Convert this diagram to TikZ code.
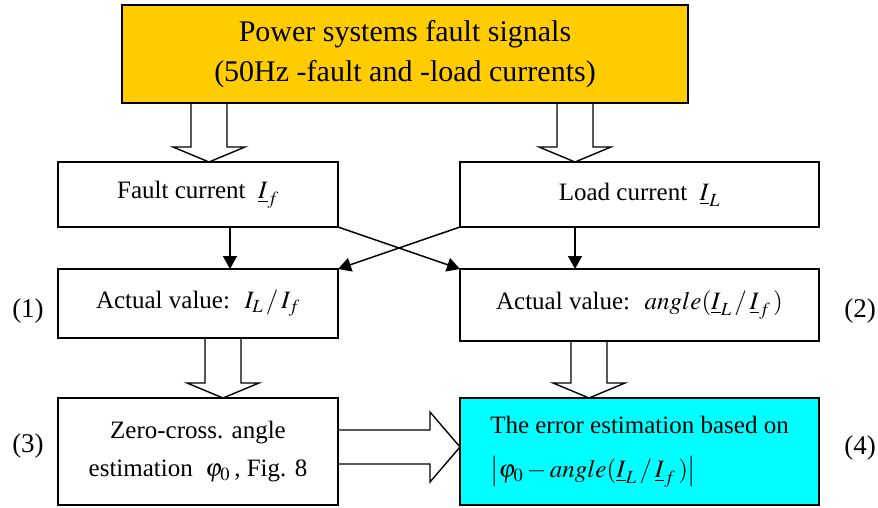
\documentclass[tikz,border=0pt]{standalone}
\usepackage{mathptmx}
\usepackage[no-math]{fontspec}
\setmainfont{Liberation Serif}
\usepackage{tikz}
\usetikzlibrary{positioning,calc,arrows.meta}

\definecolor{sourcegold}{HTML}{FFCC00}
\definecolor{errcyan}{HTML}{00FFFF}

% hollow (block) arrows, start point and tip point
\newcommand{\fatdown}[2]{%
  \draw[fat] ($(#1)+(-18,0)$) -- ($(#2)+(-18,-15)$) -- ($(#2)+(-36,-15)$)
  -- (#2) -- ($(#2)+(36,-15)$) -- ($(#2)+(18,-15)$) -- ($(#1)+(18,0)$);}
\newcommand{\fatright}[2]{%
  \draw[fat] ($(#1)+(0,-17)$) -- ($(#2)+(-30,-17)$) -- ($(#2)+(-30,-35)$)
  -- (#2) -- ($(#2)+(-30,35)$) -- ($(#2)+(-30,17)$) -- ($(#1)+(0,17)$);}

\begin{document}
\begin{tikzpicture}[x=1pt, y=-1pt,
    box/.style={draw, line width=1.5pt, inner sep=0pt, outer sep=0pt,
      font=\fontsize{25}{38}\selectfont, align=center},
    fat/.style={line width=1.4pt, line join=miter},
    thin/.style={line width=1.5pt, -{Triangle[length=13pt, width=14pt]}},
    tag/.style={font=\fontsize{27}{30}\selectfont}]
  \useasboundingbox (0,0) rectangle (878,508);

  \node[box, fill=sourcegold, minimum width=566pt, minimum height=98pt,
    font=\fontsize{30}{40}\selectfont] (top) at (405,54)
    {Power systems fault signals\\(50Hz -fault and -load currents)};

  \node[box, minimum width=280pt, minimum height=65pt] (fault) at (198,194.5)
    {Fault current~ $\underline{I}_{f}$};
  \node[box, minimum width=359pt, minimum height=65pt] (load) at (639.5,194.5)
    {Load current~ $\underline{I}_{L}$};

  \node[box, minimum width=280pt, minimum height=69pt] (act1) at (198,303.5)
    {Actual value:~ $I_{L}\,/\,I_{f}$};
  \node[box, minimum width=359pt, minimum height=72pt] (act2) at (639.5,305)
    {Actual value:~ $angle(\underline{I}_{L}\,/\,\underline{I}_{f}\,)$};

  \node[box, minimum width=280pt, minimum height=107pt] (zero) at (198,451.5)
    {Zero-cross. angle\\estimation~ $\varphi_{0}$\,, Fig. 8};
  \node[box, fill=errcyan, minimum width=359pt, minimum height=107pt, align=left,
    font=\fontsize{25}{44}\selectfont] (err) at (639.5,451.5)
    {The error estimation based on\\
     $\left|\varphi_{0}-angle(\underline{I}_{L}\,/\,\underline{I}_{f}\,)\right|$};

  \node[tag] (n1) at (28,311) {(1)};
  \node[tag] (n2) at (860,311) {(2)};
  \node[tag] (n3) at (28,446) {(3)};
  \node[tag] (n4) at (860,448) {(4)};

  % block arrows
  \coordinate (t1) at ($(fault.north)+(11,0)$);
  \coordinate (s1) at (top.south -| t1);
  \coordinate (t2) at ($(load.north)+(-64.5,0)$);
  \coordinate (s2) at (top.south -| t2);
  \coordinate (t3) at ($(zero.north)+(25,0)$);
  \coordinate (s3) at (act1.south -| t3);
  \coordinate (t4) at ($(err.north)+(-50.5,0)$);
  \coordinate (s4) at (act2.south -| t4);
  \coordinate (t5) at ($(err.west)+(0,-4.5)$);
  \coordinate (s5) at ($(zero.east)+(0,-4.5)$);
  \fatdown{s1}{t1}
  \fatdown{s2}{t2}
  \fatdown{s3}{t3}
  \fatdown{s4}{t4}
  \fatright{s5}{t5}

  % thin arrows
  \draw[thin] ($(fault.south)+(32,0)$) -- ($(act1.north)+(32,0)$);
  \draw[thin] ($(load.south)+(-64.5,0)$) -- ($(act2.north)+(-64.5,0)$);
  \draw[thin] (fault.south east) -- (act2.north west);
  \draw[thin] (load.south west) -- (act1.north east);
\end{tikzpicture}
\end{document}
